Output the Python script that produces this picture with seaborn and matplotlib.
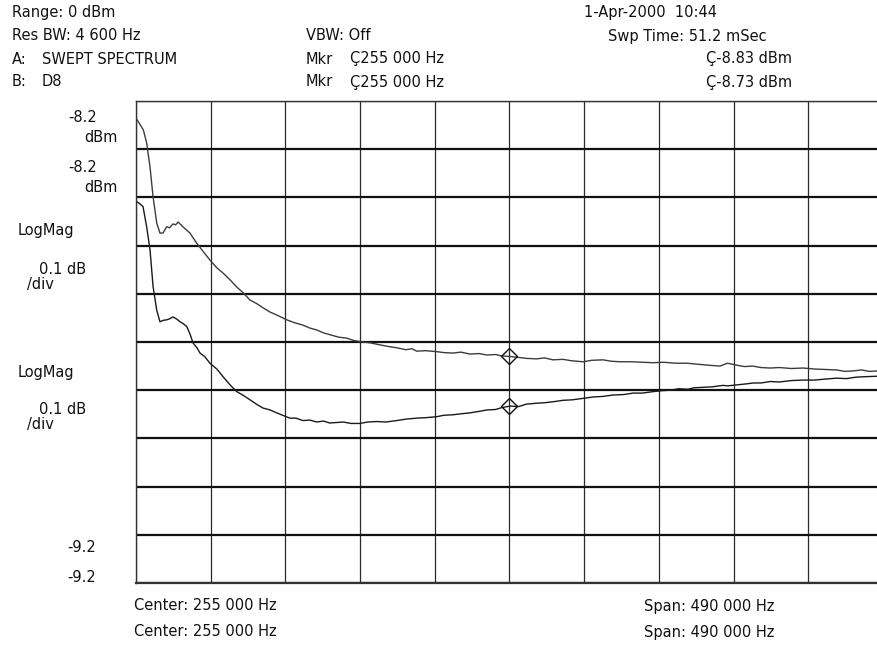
import numpy as np
import pandas as pd
import matplotlib
matplotlib.use("Agg")
import matplotlib.pyplot as plt
import seaborn as sns

# ---------------- data ----------------
# Trace B (upper, D8): frequency in kHz, level in dBm
freq_b_khz = [10.7, 12.5, 14.8, 17.0, 19.2, 21.2, 23.6, 25.7, 27.7, 30.1, 32.0, 34.3, 36.0, 37.6,
              40.8, 45.4, 49.8, 54.0, 58.5, 63.0, 67.1, 72.0, 76.1, 80.0, 84.8, 89.0, 93.3, 98.0,
              102.3, 108.9, 114.0, 119.5, 124.0, 128.5, 133.0, 137.3, 143.0, 148.2, 153.0, 158.9,
              164.0, 170.1, 175.0, 181.0, 187.0, 191.0, 194.1, 200.0, 207.2, 212.0, 217.9, 223.0,
              229.1, 235.0, 240.1, 246.0, 250.0, 255.3, 261.0, 266.0, 272.8, 278.0, 283.5, 290.0,
              296.0, 303.2, 309.0, 316.3, 322.0, 327.5, 335.0, 342.0, 349.1, 356.0, 364.0, 371.2,
              378.0, 385.0, 393.1, 398.0, 404.0, 409.0, 414.7, 420.0, 425.9, 432.0, 440.0, 447.6,
              455.0, 462.0, 469.6, 475.0, 480.3, 486.0, 491.0, 496.7, 500.0]
level_b_dbm = [-8.239, -8.248, -8.260, -8.287, -8.337, -8.399, -8.453, -8.474, -8.474, -8.461, -8.463,
               -8.455, -8.457, -8.451, -8.461, -8.474, -8.495, -8.512, -8.530, -8.546, -8.557, -8.572,
               -8.586, -8.597, -8.613, -8.620, -8.629, -8.638, -8.644, -8.654, -8.660, -8.665, -8.671,
               -8.675, -8.681, -8.685, -8.690, -8.692, -8.697, -8.700, -8.702, -8.706, -8.709, -8.712,
               -8.716, -8.714, -8.719, -8.718, -8.720, -8.722, -8.723, -8.721, -8.725, -8.724, -8.727,
               -8.726, -8.729, -8.730, -8.732, -8.734, -8.735, -8.733, -8.737, -8.736, -8.739, -8.741,
               -8.738, -8.737, -8.740, -8.741, -8.741, -8.742, -8.743, -8.742, -8.744, -8.744, -8.746,
               -8.748, -8.750, -8.744, -8.748, -8.751, -8.750, -8.753, -8.754, -8.753, -8.755, -8.754,
               -8.756, -8.757, -8.758, -8.761, -8.760, -8.758, -8.761, -8.760, -8.760]

# Trace A (lower, swept spectrum)
freq_a_khz = [10.5, 12.5, 14.6, 17.0, 19.2, 21.2, 23.6, 25.7, 28.0, 30.1, 32.0, 34.3, 36.5, 38.9,
              41.0, 43.3, 45.5, 47.4, 50.0, 52.0, 55.0, 58.5, 63.0, 67.1, 72.0, 76.1, 80.0, 84.8,
              89.0, 93.3, 98.0, 102.3, 107.0, 111.0, 115.0, 119.5, 124.0, 128.5, 133.0, 137.0,
              141.7, 146.0, 151.0, 156.9, 162.0, 167.9, 174.0, 181.0, 187.0, 194.1, 200.0, 207.2,
              212.0, 217.9, 223.0, 229.1, 235.0, 240.1, 246.0, 250.0, 255.3, 261.0, 266.0, 272.8,
              278.0, 283.5, 290.0, 296.0, 303.2, 310.0, 316.0, 322.9, 330.0, 336.0, 342.0, 349.1,
              355.0, 360.3, 366.0, 372.0, 376.0, 381.9, 388.0, 395.0, 398.0, 404.0, 410.0, 415.0,
              420.0, 425.9, 432.0, 440.0, 447.6, 455.0, 462.0, 469.6, 476.0, 482.0, 488.0, 496.7, 500.0]
level_a_dbm = [-8.409, -8.413, -8.419, -8.461, -8.509, -8.585, -8.634, -8.658, -8.655, -8.654, -8.652,
               -8.648, -8.652, -8.658, -8.662, -8.668, -8.684, -8.702, -8.712, -8.723, -8.730, -8.744,
               -8.756, -8.772, -8.790, -8.803, -8.810, -8.820, -8.829, -8.837, -8.841, -8.847, -8.853,
               -8.858, -8.858, -8.863, -8.862, -8.866, -8.864, -8.868, -8.867, -8.866, -8.869, -8.869,
               -8.866, -8.865, -8.866, -8.863, -8.860, -8.858, -8.857, -8.855, -8.852, -8.851, -8.849,
               -8.847, -8.844, -8.841, -8.840, -8.836, -8.833, -8.834, -8.829, -8.827, -8.826, -8.824,
               -8.821, -8.820, -8.817, -8.814, -8.813, -8.810, -8.809, -8.806, -8.806, -8.803, -8.801,
               -8.800, -8.797, -8.798, -8.795, -8.794, -8.793, -8.790, -8.791, -8.789, -8.787, -8.785,
               -8.785, -8.782, -8.783, -8.780, -8.779, -8.779, -8.777, -8.775, -8.776, -8.773, -8.772,
               -8.771, -8.770]

marker_freq_hz = 255000
marker_a_dbm = -8.833
marker_b_dbm = -8.730

center_hz = 255000
span_hz = 490000
ref_top_dbm = -8.2
ref_bottom_dbm = -9.2
db_per_div = 0.1
n_xdiv = 10

header_left = ["Range: 0 dBm", "Res BW: 4 600 Hz", "A:", "B:"]
header_trace = ["SWEPT SPECTRUM", "D8"]
header_mid = ["VBW: Off", "Mkr", "Mkr"]
header_mkr = ["\u00c7255 000 Hz", "\u00c7255 000 Hz"]
header_right = ["1-Apr-2000  10:44", "Swp Time: 51.2 mSec", "\u00c7-8.83 dBm", "\u00c7-8.73 dBm"]
bottom_left = ["Center: 255 000 Hz", "Center: 255 000 Hz"]
bottom_right = ["Span: 490 000 Hz", "Span: 490 000 Hz"]

# ---------------- figure ----------------
sns.set_theme(style="white")
plt.rcParams["font.family"] = ["DejaVu Sans"]
W, H = 878, 646
fig = plt.figure(figsize=(W / 100, H / 100), dpi=100)
fig.patch.set_facecolor("white")

left_px, right_px, top_px, bot_px = 136, 883, 101, 583
ax = fig.add_axes([left_px / W, 1 - bot_px / H, (right_px - left_px) / W, (bot_px - top_px) / H])
ax.set_facecolor("white")

df_b = pd.DataFrame({"freq": np.array(freq_b_khz) * 1000, "level": level_b_dbm})
df_a = pd.DataFrame({"freq": np.array(freq_a_khz) * 1000, "level": level_a_dbm})
sns.lineplot(data=df_b, x="freq", y="level", ax=ax, color="#3c3c3c", lw=1.0, sort=False)
sns.lineplot(data=df_a, x="freq", y="level", ax=ax, color="#1a1a1a", lw=1.0, sort=False)

ax.plot([marker_freq_hz, marker_freq_hz], [marker_b_dbm, marker_a_dbm], ls="none", marker="D",
        ms=8.5, mfc="none", mec="#111111", mew=1.0, zorder=5)

x0 = center_hz - span_hz / 2
x1 = center_hz + span_hz / 2
ax.set_xlim(x0, x1)
ax.set_ylim(ref_bottom_dbm, ref_top_dbm)
ax.set_xticks(np.linspace(x0, x1, n_xdiv + 1))
ax.set_yticks(np.arange(ref_bottom_dbm, ref_top_dbm + db_per_div / 2, db_per_div))
ax.tick_params(length=0, labelbottom=False, labelleft=False)
ax.set_xlabel("")
ax.set_ylabel("")
ax.xaxis.grid(True, color="#2a2a2a", lw=0.9)
ax.yaxis.grid(True, color="#111111", lw=1.6)
ax.set_axisbelow(True)
for side, sp in ax.spines.items():
    sp.set_color("#333333")
    sp.set_linewidth(1.0 if side in ("left", "top") else 1.6)

fs = 10.5
def txt(x, y, s, ha="left"):
    fig.text(x / W, 1 - y / H, s, ha=ha, va="center", fontsize=fs, color="#111111")

# header rows
rows_y = [13, 36, 59, 82]
txt(12, rows_y[0], header_left[0])
txt(12, rows_y[1], header_left[1])
txt(12, rows_y[2], header_left[2])
txt(12, rows_y[3], header_left[3])
txt(42, rows_y[2], header_trace[0])
txt(42, rows_y[3], header_trace[1])
txt(306, rows_y[1], header_mid[0])
txt(306, rows_y[2], header_mid[1])
txt(306, rows_y[3], header_mid[2])
txt(350, rows_y[2], header_mkr[0])
txt(350, rows_y[3], header_mkr[1])
txt(584, rows_y[0], header_right[0])
txt(608, rows_y[1], header_right[1])
txt(706, rows_y[2], header_right[2])
txt(706, rows_y[3], header_right[3])

# left scale labels
txt(68, 118, "-8.2")
txt(118, 138, "dBm", ha="right")
txt(68, 168, "-8.2")
txt(118, 188, "dBm", ha="right")
txt(18, 230, "LogMag")
txt(39, 270, "0.1 dB")
txt(27, 284, "/div")
txt(18, 372, "LogMag")
txt(39, 410, "0.1 dB")
txt(27, 425, "/div")
txt(67, 548, "-9.2")
txt(67, 578, "-9.2")

# bottom labels
txt(134, 606, bottom_left[0])
txt(134, 632, bottom_left[1])
txt(644, 606, bottom_right[0])
txt(644, 632, bottom_right[1])

fig.savefig("out.png", dpi=100, facecolor="white")
